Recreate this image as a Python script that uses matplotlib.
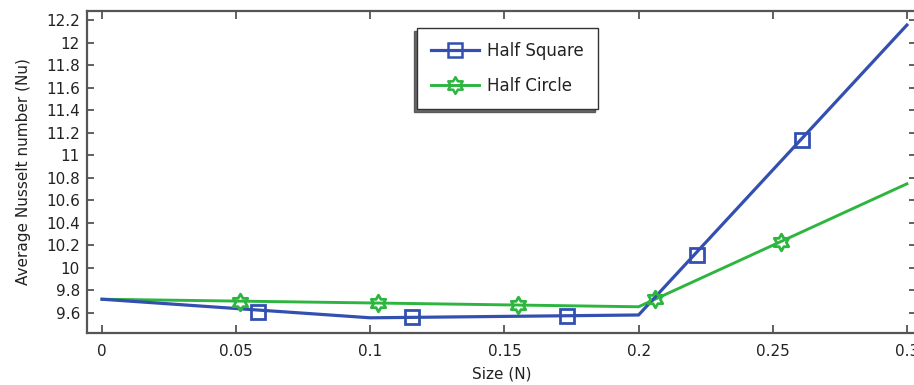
import numpy as np
import matplotlib
matplotlib.use("Agg")
import matplotlib.pyplot as plt
from matplotlib.path import Path

# Line vertices
size_sq = [0.0, 0.1, 0.2, 0.3]
nu_sq = [9.72, 9.555, 9.58, 12.155]
size_ci = [0.0, 0.1, 0.2, 0.3]
nu_ci = [9.72, 9.687, 9.653, 10.745]

# Marker locations along each curve
mk_size_sq = [0.0582, 0.1157, 0.1735, 0.2218, 0.2608]
mk_nu_sq = [9.61, 9.558, 9.571, 10.11, 11.133]
mk_size_ci = [0.0515, 0.103, 0.1549, 0.2063, 0.253]
mk_nu_ci = [9.695, 9.685, 9.673, 9.72, 10.227]

xticks = [0, 0.05, 0.1, 0.15, 0.2, 0.25, 0.3]
yticks = [9.6, 9.8, 10, 10.2, 10.4, 10.6, 10.8, 11, 11.2, 11.4, 11.6, 11.8, 12, 12.2]

blue = "#3350B0"
green = "#2EB540"
spine_c = "#555555"
text_c = "#222222"

# six-pointed star outline (two overlapping triangles)
ang_out = np.deg2rad(90 + 60 * np.arange(6))
ang_in = ang_out + np.deg2rad(30)
r_in = 1 / np.sqrt(3)
verts = []
for a, b in zip(ang_out, ang_in):
    verts.append((np.cos(a), np.sin(a)))
    verts.append((r_in * np.cos(b), r_in * np.sin(b)))
verts.append(verts[0])
codes = [Path.MOVETO] + [Path.LINETO] * 11 + [Path.CLOSEPOLY]
star6 = Path(verts, codes)

plt.rcParams["font.family"] = "DejaVu Sans"
fig = plt.figure(figsize=(9.14, 3.85), dpi=100)
ax = fig.add_axes([87 / 914, 52 / 385, (916 - 87) / 914, (374 - 52) / 385])

ax.plot(size_sq, nu_sq, color=blue, lw=2.3, solid_joinstyle="miter", zorder=3)
ax.plot(size_ci, nu_ci, color=green, lw=2.1, solid_joinstyle="miter", zorder=2)
ax.plot(mk_size_sq, mk_nu_sq, ls="none", marker="s", ms=9.5, mfc="none",
        mec=blue, mew=2.0, zorder=4)
ax.plot(mk_size_ci, mk_nu_ci, ls="none", marker=star6, ms=12, mfc="none",
        mec=green, mew=2.0, zorder=4)

# legend proxies
h1, = ax.plot([], [], color=blue, lw=2.3, marker="s", ms=9.5, mfc="none", mec=blue, mew=1.8)
h2, = ax.plot([], [], color=green, lw=2.1, marker=star6, ms=12, mfc="none", mec=green, mew=1.8)

ax.set_xlim(-0.0056, 0.3034)
ax.set_ylim(9.42, 12.28)
ax.set_xticks(xticks)
ax.set_xticklabels(["%g" % v for v in xticks])
ax.set_yticks(yticks)
ax.set_yticklabels(["%g" % v for v in yticks])

ax.tick_params(axis="both", direction="in", colors=spine_c, labelcolor=text_c,
               labelsize=11, width=1.3, top=True, right=True)
ax.tick_params(axis="x", length=6, pad=8)
ax.tick_params(axis="y", length=5, pad=5)
for s in ax.spines.values():
    s.set_color(spine_c)
    s.set_linewidth(1.6)

ax.set_xlabel("Size (N)", fontsize=11, color=text_c, labelpad=5)
ax.set_ylabel("Average Nusselt number (Nu)", fontsize=11, color=text_c, labelpad=11)

leg = ax.legend([h1, h2], ["Half Square", "Half Circle"], loc="upper left",
                bbox_to_anchor=(417 / 914, (385 - 28) / 385),
                bbox_transform=fig.transFigure, borderaxespad=0,
                fontsize=12, frameon=True, fancybox=False, handlelength=2.9,
                borderpad=0.82, labelspacing=1.05, handletextpad=0.5,
                shadow={"ox": -2, "oy": -2, "color": "#444444", "alpha": 0.8})
leg.get_frame().set_edgecolor("#333333")
leg.get_frame().set_linewidth(1.0)
for t in leg.get_texts():
    t.set_color(text_c)

fig.savefig("out.png", dpi=100)
